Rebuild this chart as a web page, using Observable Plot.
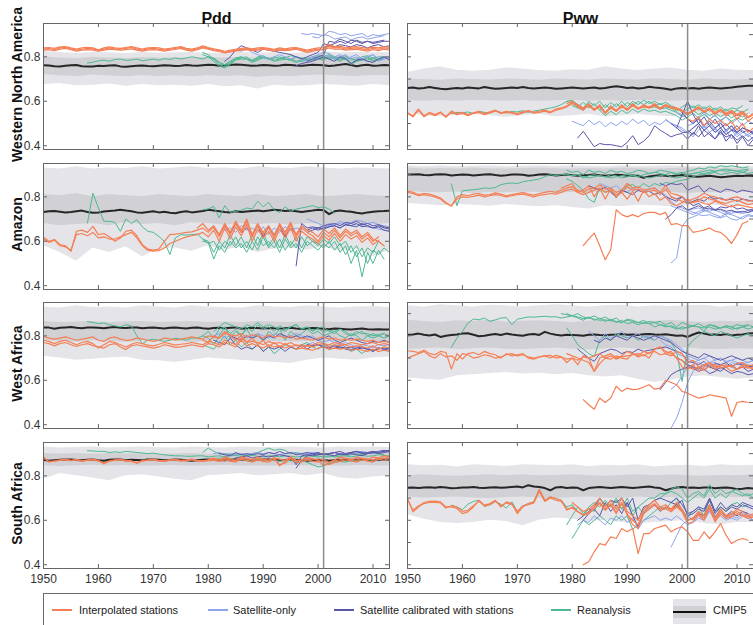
<!DOCTYPE html>
<html><head><meta charset="utf-8">
<script src="https://cdn.jsdelivr.net/npm/d3@7"></script>
<script src="https://cdn.jsdelivr.net/npm/@observablehq/plot@0.6"></script>
<style>
html,body{margin:0;padding:0;background:#fff;}
#fig{position:relative;width:753px;height:625px;overflow:hidden;font-family:"Liberation Sans",Arial,sans-serif;background:#fff;}
.panel{position:absolute;}
#legend{position:absolute;left:43px;top:593px;width:730px;height:40px;border:1px solid #6b6b6b;box-sizing:border-box;}
.sw{position:absolute;height:2px;width:20px;top:15px;}
.lt{position:absolute;top:8px;font-size:11px;line-height:16px;color:#222;white-space:nowrap;}
</style></head><body>
<div id="fig">
<div id="legend">
  <div class="sw" style="left:8px;background:#f57f55"></div><div class="lt" style="left:35px">Interpolated stations</div>
  <div class="sw" style="left:164px;background:#8ea3ea"></div><div class="lt" style="left:189px">Satellite-only</div>
  <div class="sw" style="left:290px;background:#5a55a8"></div><div class="lt" style="left:316px">Satellite calibrated with stations</div>
  <div class="sw" style="left:507px;background:#4fb892"></div><div class="lt" style="left:533px">Reanalysis</div>
  <div style="position:absolute;left:629px;top:5px;width:33px;height:25px;background:#e5e5e9"></div>
  <div style="position:absolute;left:629px;top:12px;width:33px;height:12px;background:#d0d0d5"></div>
  <div style="position:absolute;left:629px;top:17px;width:33px;height:2px;background:#111"></div>
  <div class="lt" style="left:669px">CMIP5</div>
</div>
</div>
<script>
// ---------- labels & ticks ----------
const regions = ["Western North America", "Amazon", "West Africa", "South Africa"];
const variables = ["Pdd", "Pww"];
const xTickYears = [1950, 1960, 1970, 1980, 1990, 2000, 2010];
const yTicksLeft = [0.4, 0.6, 0.8];
const yTicksRight = [0.4, 0.5, 0.6, 0.7, 0.8, 0.9];
const markerYear = [2001];

// ---------- Western North America, Pdd ----------
const wnaPdd_mean = [.762,.761,.758,.757,.760,.762,.763,.758,.756,.757,.760,.759,.761,.762,.757,.755,.758,.760,.761,.759,.758,.760,.762,.761,.759,.760,.763,.761,.760,.762,.764,.763,.760,.761,.763,.765,.764,.762,.760,.761,.763,.762,.760,.761,.764,.763,.761,.760,.762,.764,.763,.762,.759,.761,.764,.768,.763,.758,.762,.764,.760,.761,.763,.762];
const wnaPdd_outerHi = [.825,.82,.815,.82,.818,.815,.82,.816,.818,.82,.815,.818,.82,.816,.818,.815,.82,.822,.818,.82,.818,.82];
const wnaPdd_outerLo = [.675,.68,.67,.672,.678,.668,.675,.67,.672,.668,.675,.665,.67,.655,.672,.668,.67,.675,.672,.668,.675,.67];
const wnaPdd_innerHi = [.8,.795,.792,.798,.795,.793,.797,.795,.796,.794,.797,.795,.797,.795,.796,.794,.797,.8,.796,.797,.795,.796];
const wnaPdd_innerLo = [.72,.715,.712,.718,.714,.71,.716,.712,.715,.71,.716,.712,.715,.708,.714,.71,.716,.718,.714,.712,.716,.715];
const wnaPdd_interp = [
 [1950,.835,.838,.832,.84,.842,.836,.83,.834,.838,.836,.828,.835,.84,.836,.834,.838,.842,.835,.83,.836,.838,.835,.83,.834,.838,.842,.834,.83,.836,.845,.838,.832,.828,.82,.825,.83,.834,.836,.832,.835,.838,.834,.83,.836,.832,.835,.838,.832,.825,.83,.835,.836,.848,.84,.842,.835,.838,.84,.836,.832,.838,.834,.84,.836],
 [1950,.83,.832,.828,.835,.838,.832,.826,.83,.832,.83,.825,.83,.835,.832,.83,.832,.836,.83,.826,.83,.832,.83,.826,.83,.833,.838,.83,.826,.832,.84,.834,.828,.824,.818,.822,.826,.83,.832,.828,.83,.834,.83,.826,.83,.828,.83,.834,.828,.82,.826,.83,.832,.84,.834,.836,.83,.832,.834,.83,.826,.832,.828,.834,.83],
 [1950,.84,.842,.838,.845,.846,.84,.835,.84,.843,.84,.832,.84,.845,.84,.838,.842,.846,.84,.835,.84,.842,.84,.835,.838,.842,.846,.838,.835,.84,.85,.842,.836,.832,.825,.83,.834,.838,.84,.836,.84,.842,.838,.834,.84,.836,.84,.842,.836,.83,.836,.84,.842,.855,.846,.848,.84,.844,.846,.842,.838,.844,.84,.846,.842]
];
const wnaPdd_satOnly = [
 [1997,.905,.9,.905,.9,.895,.915,.91,.9,.905,.895,.9,.905,.89,.9,.895,.9,.905],
 [1999,.89,.885,.9,.895,.88,.885,.89,.875,.885,.89,.88,.885,.89,.895],
 [1985,.83,.825,.835,.82,.81,.8,.79,.8,.81,.8,.79,.8,.79,.78,.8,.79,.81,.8,.79,.8,.81,.79,.8,.785,.8,.81,.79,.8,.79],
 [1998,.79,.8,.81,.82,.815,.8,.81,.79,.8,.81,.79,.8,.81,.78,.79,.8]
];
const wnaPdd_satCal = [
 [1983,.78,.8,.83,.85,.84,.83,.82,.835,.83,.825,.82,.815,.81,.8,.79,.8,.81,.82,.86,.85,.86,.87,.86,.875,.87,.86,.87,.865,.87,.875],
 [1998,.78,.79,.8,.81,.87,.865,.88,.87,.86,.875,.865,.87,.86,.865,.87,.87],
 [1996,.76,.77,.775,.78,.79,.8,.79,.78,.8,.79,.77,.785,.79,.78,.775,.79,.8,.785],
 [2001,.84,.85,.845,.855,.85,.845,.855,.85,.84,.85,.855,.845,.85]
];
const wnaPdd_rean = [
 [1958,.772,.776,.782,.785,.78,.788,.79,.784,.786,.79,.782,.786,.79,.785,.792,.788,.795,.79,.795,.8,.796,.79,.8,.79,.775,.765,.78,.795,.8,.79,.785,.795,.8,.79,.795,.8,.79,.785,.8,.795,.79,.785,.795,.8,.79,.8,.785,.79,.795,.78,.79,.785,.795,.79,.8,.795],
 [1979,.82,.81,.79,.765,.755,.77,.79,.795,.8,.78,.79,.8,.795,.785,.79,.8,.79,.78,.785,.79,.8,.795,.79,.805,.795,.79,.8,.77,.785,.79,.8,.785,.79,.795],
 [1979,.81,.8,.78,.758,.75,.765,.785,.79,.79,.775,.785,.795,.79,.78,.785,.79,.785,.775,.78,.785,.79,.79,.785,.8,.79,.78,.795,.765,.78,.785,.795,.78,.785,.79],
 [1980,.8,.795,.775,.762,.775,.79,.8,.79,.782,.8,.805,.79,.8,.792,.795,.805,.8,.79,.792,.8,.805,.8,.81,.8,.798,.805,.785,.79,.8,.805,.795,.8,.8]
];

// ---------- Western North America, Pww ----------
const wnaPww_mean = [.66,.662,.658,.66,.664,.66,.656,.654,.658,.66,.658,.662,.66,.658,.664,.66,.656,.658,.66,.662,.66,.664,.66,.658,.66,.662,.66,.656,.658,.66,.662,.66,.658,.66,.662,.658,.66,.664,.668,.664,.66,.662,.658,.66,.665,.662,.66,.656,.652,.658,.66,.658,.66,.656,.66,.662,.66,.658,.66,.662,.665,.668,.67,.67];
const wnaPww_outerHi = [.73,.745,.755,.74,.735,.74,.75,.745,.738,.735,.742,.74,.755,.745,.738,.745,.75,.74,.735,.745,.74,.738];
const wnaPww_outerLo = [.55,.535,.53,.535,.54,.535,.528,.535,.54,.53,.535,.54,.53,.535,.54,.535,.53,.54,.535,.53,.535,.54];
const wnaPww_innerHi = [.7,.698,.695,.7,.698,.696,.7,.698,.695,.7,.698,.696,.7,.698,.696,.7,.698,.695,.7,.698,.696,.7];
const wnaPww_innerLo = [.605,.6,.603,.6,.605,.602,.6,.604,.6,.602,.605,.6,.603,.6,.605,.602,.6,.604,.6,.602,.605,.6];
const wnaPww_interp = [
 [1950,.55,.535,.565,.535,.55,.54,.552,.532,.556,.545,.55,.54,.548,.555,.545,.552,.56,.548,.555,.55,.545,.552,.558,.55,.555,.56,.552,.565,.57,.58,.595,.585,.57,.585,.565,.58,.55,.575,.56,.58,.565,.585,.57,.58,.575,.585,.57,.585,.575,.57,.56,.545,.56,.575,.555,.57,.55,.565,.545,.56,.54,.555,.53,.545],
 [1950,.545,.53,.56,.53,.545,.535,.548,.528,.55,.54,.545,.535,.545,.55,.54,.548,.556,.545,.55,.546,.54,.548,.555,.546,.55,.556,.548,.56,.566,.575,.59,.58,.565,.58,.56,.575,.545,.57,.555,.575,.56,.58,.565,.575,.57,.58,.565,.58,.57,.565,.555,.54,.555,.57,.55,.565,.545,.56,.54,.555,.535,.55,.525,.54],
 [1979,.59,.6,.575,.56,.59,.56,.585,.545,.58,.555,.585,.56,.59,.565,.585,.57,.59,.565,.58,.57,.565,.555,.54,.555,.57,.55,.565,.54,.56,.535,.55,.52,.545,.51,.53],
 [2001,.52,.51,.53,.49,.52,.5,.515,.49,.51,.47,.5,.46,.48]
];
const wnaPww_satOnly = [
 [1980,.51,.5,.49,.515,.495,.51,.485,.505,.49,.51,.495,.52,.5,.515,.49,.505,.495,.515,.5,.49,.47,.455,.48,.5,.47,.49,.46,.48,.45,.47,.44,.46,.45,.47],
 [1997,.52,.5,.49,.48,.46,.44,.47,.49,.46,.48,.45,.47,.43,.46,.44,.45,.43],
 [1999,.55,.54,.52,.5,.53,.55,.52,.54,.51,.53,.5,.52,.49,.51,.5],
 [2001,.49,.5,.52,.48,.5,.47,.51,.46,.49,.45,.47,.44,.46]
];
const wnaPww_satCal = [
 [1981,.435,.465,.43,.395,.41,.405,.405,.4,.395,.415,.445,.405,.42,.445,.49,.47,.455,.44,.45,.455,.43,.46,.44,.47,.45,.43,.46,.44,.45,.425,.445,.42,.44],
 [1998,.5,.48,.46,.46,.48,.5,.47,.49,.46,.48,.45,.47,.46,.48,.47,.46],
 [2000,.55,.52,.5,.52,.49,.51,.48,.5,.47,.49,.46,.48,.47,.455],
 [1999,.48,.54,.6,.54,.5,.53,.49,.52,.48,.5,.47,.49,.46,.47,.45],
 [2001,.47,.45,.49,.44,.46,.43,.47,.42,.45,.41,.44,.4,.43]
];
const wnaPww_rean = [
 [1958,.545,.55,.548,.552,.545,.555,.55,.548,.556,.55,.548,.554,.552,.558,.55,.556,.56,.565,.57,.575,.585,.6,.59,.575,.595,.57,.59,.56,.585,.565,.59,.57,.595,.58,.6,.585,.6,.58,.59,.575,.57,.555,.575,.59,.57,.585,.565,.58,.56,.575,.555,.57,.565,.58],
 [1979,.6,.605,.585,.57,.6,.58,.6,.57,.595,.575,.6,.575,.6,.585,.605,.59,.6,.585,.595,.58,.57,.55,.565,.58,.56,.575,.555,.57,.55,.565,.545,.56,.55,.565],
 [1980,.58,.57,.56,.585,.56,.58,.55,.575,.555,.58,.56,.585,.565,.58,.57,.575,.565,.57,.56,.55,.53,.545,.56,.54,.555,.535,.55,.53,.545,.525,.54,.53,.545],
 [1985,.56,.535,.555,.54,.56,.545,.565,.55,.565,.555,.56,.55,.555,.545,.535,.515,.53,.545,.525,.54,.52,.535,.515,.53,.51,.525,.515,.53]
];

// ---------- Amazon, Pdd ----------
const amzPdd_mean = [.732,.735,.736,.733,.73,.732,.735,.738,.732,.728,.73,.734,.736,.738,.742,.738,.735,.73,.728,.732,.735,.73,.733,.728,.726,.732,.735,.73,.733,.736,.742,.738,.735,.732,.73,.735,.732,.734,.736,.738,.735,.738,.742,.74,.736,.738,.735,.732,.735,.738,.742,.74,.722,.735,.738,.735,.733,.728,.725,.73,.733,.735,.736,.738];
const amzPdd_outerHi = [.93,.925,.935,.925,.93,.928,.935,.925,.93,.935,.928,.93,.925,.935,.93,.928,.935,.93,.925,.93,.928,.925];
const amzPdd_outerLo = [.58,.55,.51,.57,.55,.575,.53,.565,.57,.555,.58,.56,.575,.55,.565,.57,.56,.575,.555,.565,.53,.56];
const amzPdd_innerHi = [.81,.805,.815,.8,.81,.805,.8,.81,.805,.8,.81,.805,.8,.81,.8,.805,.81,.8,.805,.81,.805,.8];
const amzPdd_innerLo = [.68,.67,.675,.68,.67,.685,.675,.68,.67,.685,.68,.672,.68,.675,.68,.672,.68,.675,.67,.68,.675,.68];
const amzPdd_interp = [
 [1950,.618,.6,.608,.585,.58,.555,.645,.65,.64,.667,.63,.635,.62,.6,.615,.645,.65,.625,.585,.565,.56,.565,.6,.63,.632,.636,.64,.642,.65,.66,.64,.665,.62,.675,.63,.68,.64,.69,.62,.67,.63,.66,.615,.67,.63,.675,.62,.66,.64,.625,.6,.64,.62,.65,.615,.645,.625,.64,.61,.63,.6,.62],
 [1950,.61,.595,.605,.58,.575,.56,.63,.635,.625,.64,.615,.62,.61,.61,.62,.63,.64,.615,.58,.56,.556,.558,.57,.59,.6,.61,.62,.625,.63,.64,.62,.65,.6,.66,.61,.665,.625,.675,.6,.655,.615,.645,.6,.655,.615,.66,.6,.645,.625,.61,.59,.625,.605,.635,.6,.63,.61,.625,.595,.615,.585,.605],
 [1978,.66,.68,.65,.67,.63,.68,.64,.69,.65,.7,.63,.68,.64,.67,.625,.68,.64,.685,.63,.67,.65,.64,.62,.655,.635,.66,.625,.655,.635,.65,.62,.64,.61,.6,.58]
];
const amzPdd_satOnly = [
 [1998,.7,.69,.68,.67,.68,.675,.69,.68,.685,.695,.69,.68,.685,.675,.67,.665],
 [2000,.66,.665,.67,.675,.68,.67,.68,.675,.67,.665,.66,.655,.65,.645],
 [1983,.65,.66,.64,.67,.65,.66,.64,.665,.63,.66,.64,.665,.65,.66,.655]
];
const amzPdd_satCal = [
 [1981,.66,.63,.67,.635,.68,.64,.66,.63,.67,.62,.665,.63,.67,.62,.66,.63,.67,.65,.66,.65,.66,.665,.67,.66,.675,.67,.68,.665,.67,.66,.67,.66,.655],
 [1996,.49,.68,.66,.665,.66,.67,.675,.68,.67,.685,.68,.69,.675,.68,.67,.675,.665,.66],
 [1998,.64,.65,.66,.655,.665,.67,.66,.675,.67,.665,.68,.67,.66,.665,.65,.645]
];
const amzPdd_rean = [
 [1958,.682,.816,.75,.69,.69,.685,.645,.7,.68,.697,.665,.645,.64,.622,.6,.54,.615,.63,.628,.63,.633,.61,.59,.6,.56,.6,.58,.62,.57,.6,.56,.62,.58,.6,.57,.61,.56,.6,.57,.62,.58,.6,.59,.57,.6,.56,.59,.54,.58,.53,.57,.5,.56,.54,.57,.55],
 [1979,.742,.745,.757,.705,.76,.73,.735,.74,.75,.745,.78,.755,.775,.74,.73,.755,.735,.745,.75,.755,.76,.752,.755,.745,.727],
 [1979,.6,.595,.52,.58,.55,.6,.57,.59,.55,.6,.56,.62,.57,.6,.55,.61,.57,.59,.55,.6,.58,.56,.59,.57,.6,.55,.58,.5,.56,.44,.55,.5,.56,.52],
 [1979,.61,.6,.55,.6,.57,.63,.58,.62,.57,.63,.58,.64,.58,.62,.57,.63,.58,.62,.57,.62,.6,.58,.61,.59,.62,.58,.6,.55,.58,.53,.57,.55,.6,.58]
];

// ---------- Amazon, Pww ----------
const amzPww_mean = [.9,.9,.902,.898,.897,.9,.902,.9,.896,.898,.9,.899,.896,.898,.9,.902,.898,.895,.897,.9,.901,.899,.895,.897,.9,.902,.899,.896,.898,.9,.897,.895,.897,.898,.9,.897,.895,.897,.899,.898,.895,.896,.894,.886,.892,.895,.897,.895,.893,.896,.898,.894,.892,.89,.893,.895,.892,.888,.89,.893,.895,.894,.896,.893];
const amzPww_outerHi = [.94,.935,.94,.935,.938,.94,.935,.938,.94,.936,.94,.938,.935,.94,.936,.938,.94,.935,.938,.94,.936,.938];
const amzPww_outerLo = [.77,.765,.76,.765,.762,.758,.765,.76,.755,.76,.752,.745,.76,.755,.762,.76,.755,.76,.765,.76,.758,.76];
const amzPww_innerHi = [.93,.925,.928,.925,.93,.926,.925,.928,.93,.926,.925,.928,.925,.93,.926,.925,.928,.93,.925,.928,.926,.925];
const amzPww_innerLo = [.825,.82,.818,.822,.815,.82,.818,.822,.82,.815,.82,.818,.82,.815,.822,.818,.82,.815,.82,.818,.822,.82];
const amzPww_interp = [
 [1950,.827,.82,.81,.815,.812,.805,.795,.775,.758,.8,.81,.805,.812,.815,.808,.81,.818,.812,.805,.81,.815,.82,.812,.808,.815,.82,.825,.82,.83,.84,.846,.83,.82,.835,.84,.854,.835,.84,.82,.83,.86,.84,.845,.83,.835,.84,.82,.85,.815,.81,.8,.78,.79,.8,.816,.805,.8,.79,.785,.795,.8,.79,.78,.785],
 [1950,.82,.815,.805,.81,.805,.8,.79,.77,.76,.79,.8,.798,.802,.808,.8,.805,.81,.806,.8,.805,.81,.812,.806,.8,.808,.81,.815,.812,.82,.83,.835,.82,.81,.82,.83,.84,.82,.83,.81,.82,.845,.83,.835,.82,.825,.83,.81,.835,.8,.79,.78,.77,.775,.785,.8,.79,.785,.775,.77,.78,.785,.775,.765,.77],
 [1978,.84,.85,.86,.82,.83,.85,.8,.84,.79,.835,.8,.82,.79,.825,.78,.83,.8,.815,.785,.8,.77,.76,.775,.79,.775,.78,.77,.765,.78,.77,.76,.755,.765,.76,.755,.75],
 [1982,.58,.61,.637,.58,.517,.562,.742,.72,.71,.72,.71,.725,.73,.73,.72,.73,.675,.68,.67,.67,.64,.645,.65,.66,.645,.64,.62,.59,.63,.68,.69]
];
const amzPww_satOnly = [
 [1998,.503,.525,.667,.7,.71,.72,.715,.72,.71,.705,.715,.7,.695,.71,.72,.715],
 [1985,.86,.85,.84,.85,.83,.82,.84,.83,.82,.835,.84,.82,.81,.78,.76,.75,.74,.745,.75,.74,.735,.745,.74,.73,.725,.735,.73,.74,.735],
 [1998,.76,.75,.74,.73,.72,.735,.74,.73,.72,.71,.725,.72,.71,.7,.715,.71],
 [2001,.74,.73,.725,.735,.745,.74,.73,.72,.735,.73,.725,.73,.735]
];
const amzPww_satCal = [
 [1983,.85,.84,.83,.845,.82,.8,.83,.82,.81,.83,.82,.825,.81,.82,.8,.79,.78,.8,.77,.78,.79,.78,.8,.79,.795,.785,.79,.78,.79,.785,.78],
 [1997,.7,.72,.75,.76,.74,.75,.76,.745,.75,.74,.745,.735,.74,.73,.735,.73,.74],
 [1996,.86,.85,.86,.855,.86,.83,.84,.85,.82,.84,.83,.82,.835,.83,.82,.83,.825,.82],
 [1998,.8,.79,.8,.78,.76,.77,.75,.76,.74,.755,.75,.76,.745,.75,.74,.745]
];
const amzPww_rean = [
 [1958,.858,.76,.827,.83,.832,.835,.84,.838,.842,.855,.86,.862,.86,.868,.872,.876,.88,.89,.9,.895,.9,.9,.895,.9,.89,.885,.89,.895,.89,.885,.89,.895,.9,.895,.89,.9,.905,.91,.905,.9,.91,.905,.91,.9,.905,.91,.9,.905,.91,.9,.905,.91,.905,.91,.905,.91],
 [1979,.92,.91,.915,.9,.92,.91,.915,.905,.92,.91,.915,.905,.91,.92,.915,.905,.91,.92,.915,.91,.9,.905,.915,.92,.93,.925,.935,.93,.94,.935,.94,.935,.93,.935],
 [1979,.88,.87,.85,.83,.79,.775,.84,.82,.83,.795,.83,.85,.855,.84,.86,.845,.86,.85,.865,.86,.87,.875,.88,.89,.9,.905,.91,.915,.92,.915,.92,.915,.91,.92],
 [1979,.9,.895,.9,.885,.895,.9,.895,.89,.9,.895,.885,.89,.895,.9,.89,.885,.89,.895,.9,.89,.885,.89,.9,.905,.91,.915,.92,.915,.92,.925,.92,.915,.92,.925]
];

// ---------- West Africa, Pdd ----------
const wafPdd_mean = [.838,.837,.832,.836,.838,.84,.836,.834,.837,.838,.836,.834,.838,.84,.836,.835,.837,.838,.834,.836,.837,.835,.833,.836,.838,.835,.833,.836,.837,.834,.832,.835,.836,.834,.836,.838,.832,.834,.836,.835,.833,.835,.834,.832,.834,.836,.833,.831,.833,.835,.834,.832,.83,.833,.832,.83,.828,.831,.833,.83,.829,.83,.828,.828];
const wafPdd_outerHi = [.93,.925,.935,.928,.93,.925,.935,.93,.925,.935,.93,.928,.925,.935,.93,.928,.935,.93,.925,.93,.932,.928];
const wafPdd_outerLo = [.708,.7,.69,.695,.7,.705,.69,.688,.68,.69,.7,.695,.69,.685,.68,.675,.69,.7,.695,.69,.7,.705];
const wafPdd_innerHi = [.865,.86,.862,.865,.86,.863,.865,.86,.862,.865,.86,.862,.86,.865,.862,.86,.865,.862,.86,.865,.862,.86];
const wafPdd_innerLo = [.78,.775,.772,.778,.775,.77,.776,.773,.775,.77,.776,.772,.775,.77,.774,.772,.775,.772,.776,.774,.772,.775];
const wafPdd_interp = [
 [1950,.797,.79,.785,.79,.795,.788,.78,.785,.79,.795,.78,.775,.79,.795,.785,.78,.782,.79,.786,.78,.775,.78,.79,.786,.782,.785,.79,.795,.79,.785,.8,.795,.79,.81,.805,.8,.81,.795,.805,.8,.79,.805,.795,.8,.79,.8,.785,.79,.785,.78,.79,.795,.785,.79,.78,.785,.78,.785,.78,.775,.78,.77,.775,.77],
 [1950,.78,.775,.765,.775,.78,.77,.76,.77,.775,.765,.745,.76,.775,.77,.76,.75,.762,.77,.765,.758,.755,.762,.77,.765,.758,.762,.765,.77,.765,.76,.775,.77,.76,.78,.77,.76,.79,.77,.775,.77,.76,.775,.765,.77,.76,.77,.755,.76,.755,.75,.76,.765,.75,.76,.755,.76,.75,.755,.75,.745,.755,.74,.75,.745],
 [1950,.77,.765,.755,.765,.77,.76,.752,.76,.765,.756,.75,.745,.76,.765,.75,.738,.755,.76,.755,.75,.745,.75,.76,.755,.748,.75,.755,.76,.755,.75,.765,.76,.75,.77,.76,.75,.78,.755,.765,.755,.745,.76,.75,.755,.745,.755,.74,.745,.74,.735,.745,.75,.74,.745,.74,.745,.735,.74,.735,.73,.74,.73,.735,.73],
 [1979,.78,.77,.8,.79,.82,.8,.78,.8,.77,.79,.76,.78,.75,.77,.75,.765,.75,.76,.75,.755,.76,.77,.765,.76,.77,.765,.76,.77,.765,.76,.765,.77,.76,.765,.76]
];
const wafPdd_satOnly = [
 [1981,.8,.81,.79,.8,.78,.8,.79,.8,.81,.8,.79,.81,.8,.795,.8,.81,.8,.79,.8,.78,.77,.78,.77,.76,.77,.76,.75,.76,.755,.75,.76,.755,.76],
 [1998,.76,.77,.76,.75,.76,.755,.76,.75,.74,.75,.745,.74,.75,.745,.74,.75]
];
const wafPdd_satCal = [
 [1981,.78,.77,.76,.79,.76,.74,.75,.74,.76,.73,.75,.74,.75,.73,.75,.74,.76,.74,.755,.76,.75,.74,.745,.75,.74,.735,.745,.75,.74,.73,.745,.74,.745],
 [1998,.76,.755,.76,.75,.745,.755,.75,.745,.75,.74,.745,.74,.735,.745,.74,.735],
 [1984,.8,.79,.78,.8,.79,.8,.78,.8,.79,.81,.8,.79,.8,.79,.8,.79,.78,.79,.8,.78,.77,.78,.79,.78,.77,.765,.775,.77,.78,.77]
];
const wafPdd_rean = [
 [1958,.864,.86,.855,.858,.85,.845,.84,.85,.845,.8,.765,.78,.785,.78,.775,.78,.79,.785,.78,.79,.79,.8,.82,.79,.83,.84,.81,.83,.8,.84,.82,.85,.83,.84,.82,.845,.83,.84,.85,.83,.84,.825,.83,.82,.825,.82,.83,.81,.8,.82,.81,.81,.8,.805,.81,.8],
 [1979,.8,.79,.76,.8,.84,.79,.82,.8,.83,.79,.81,.78,.82,.8,.83,.78,.82,.8,.81,.83,.81,.82,.8,.81,.82,.8,.79,.81,.8,.78,.8,.79,.8,.81],
 [1979,.76,.75,.74,.77,.8,.76,.78,.75,.77,.74,.76,.73,.75,.72,.74,.76,.75,.74,.76,.77,.75,.74,.76,.75,.76,.74,.75,.73,.74,.72,.74,.73,.74,.75],
 [1981,.82,.84,.86,.85,.84,.83,.85,.84,.86,.84,.85,.84,.83,.82,.84,.85,.83,.84,.82,.835,.84,.82,.81,.83,.82,.8,.81,.82,.8,.81,.8,.79,.8]
];

// ---------- West Africa, Pww ----------
const wafPww_mean = [.805,.806,.81,.805,.802,.806,.795,.8,.804,.806,.81,.812,.805,.798,.8,.805,.808,.804,.81,.806,.803,.8,.806,.808,.804,.818,.81,.805,.802,.805,.804,.803,.8,.805,.806,.804,.803,.805,.806,.808,.805,.806,.804,.807,.808,.806,.805,.807,.804,.8,.802,.795,.806,.815,.81,.805,.806,.804,.808,.802,.805,.806,.81,.812];
const wafPww_outerHi = [.935,.93,.94,.935,.93,.938,.935,.93,.935,.94,.935,.93,.935,.938,.93,.935,.932,.935,.938,.93,.935,.932];
const wafPww_outerLo = [.61,.605,.6,.62,.625,.63,.635,.628,.632,.625,.63,.62,.615,.62,.605,.59,.6,.615,.62,.612,.605,.61];
const wafPww_innerHi = [.87,.865,.86,.868,.865,.87,.862,.866,.868,.864,.86,.866,.87,.864,.86,.866,.87,.865,.86,.866,.862,.868];
const wafPww_innerLo = [.74,.742,.745,.738,.742,.745,.74,.738,.742,.745,.74,.736,.742,.745,.74,.738,.742,.745,.74,.738,.742,.74];
const wafPww_interp = [
 [1950,.733,.73,.725,.735,.72,.715,.73,.725,.65,.72,.695,.72,.725,.715,.73,.72,.715,.7,.72,.71,.715,.72,.7,.695,.705,.71,.7,.712,.705,.695,.7,.69,.705,.7,.71,.72,.7,.71,.695,.705,.71,.715,.72,.71,.725,.73,.715,.72,.71,.73,.72,.68,.69,.66,.67,.68,.66,.665,.67,.66,.675,.68,.665,.67],
 [1950,.7,.71,.72,.73,.71,.7,.72,.705,.71,.69,.72,.715,.7,.705,.715,.71,.7,.705,.715,.72,.71,.715,.705,.7,.705,.71,.712,.7,.705,.68,.7,.67,.71,.7,.64,.675,.7,.695,.71,.7,.695,.72,.705,.715,.7,.74,.75,.72,.73,.7,.69,.66,.65,.66,.645,.665,.67,.655,.66,.665,.65,.66,.655,.66],
 [1979,.72,.71,.7,.69,.68,.64,.7,.71,.72,.7,.71,.73,.72,.71,.73,.72,.74,.75,.73,.72,.7,.66,.65,.67,.64,.66,.68,.65,.67,.66,.64,.65,.67,.66,.65],
 [1982,.513,.49,.47,.52,.5,.52,.573,.55,.565,.558,.56,.57,.58,.56,.565,.6,.59,.58,.55,.542,.53,.52,.525,.535,.53,.525,.52,.438,.5,.505,.5]
];
const wafPww_satOnly = [
 [1983,.82,.8,.78,.81,.79,.8,.82,.79,.8,.81,.79,.8,.78,.8,.79,.78,.76,.74,.71,.7,.69,.7,.71,.69,.7,.68,.69,.7,.69,.68,.69],
 [1998,.385,.43,.5,.59,.64,.66,.65,.67,.66,.65,.67,.66,.65,.66,.67,.66],
 [1998,.56,.58,.62,.66,.67,.68,.665,.675,.68,.67,.66,.68,.67,.675,.66,.67],
 [1996,.78,.76,.75,.72,.71,.7,.68,.69,.7,.68,.69,.7,.685,.69,.68,.675,.68,.69]
];
const wafPww_satCal = [
 [1981,.74,.72,.7,.685,.72,.73,.74,.735,.72,.73,.725,.74,.73,.735,.74,.745,.75,.74,.73,.72,.685,.68,.67,.685,.66,.675,.67,.68,.66,.675,.67,.66,.665],
 [1996,.558,.59,.625,.64,.65,.66,.655,.64,.65,.63,.64,.66,.645,.63,.64,.635,.625,.63],
 [1984,.78,.77,.79,.78,.8,.79,.78,.8,.79,.78,.79,.8,.79,.78,.77,.75,.73,.72,.71,.7,.72,.71,.7,.69,.7,.71,.7,.69,.7,.69],
 [1999,.7,.69,.67,.66,.65,.67,.66,.65,.64,.66,.67,.65,.66,.64,.65]
];
const wafPww_rean = [
 [1958,.748,.79,.82,.857,.876,.872,.88,.865,.872,.88,.882,.85,.875,.88,.885,.884,.886,.888,.885,.886,.88,.885,.89,.885,.878,.88,.875,.87,.872,.868,.865,.86,.87,.865,.86,.855,.865,.86,.85,.845,.84,.83,.84,.835,.845,.84,.82,.85,.84,.835,.84,.83,.835,.84,.83,.84],
 [1978,.9,.895,.89,.9,.885,.88,.89,.875,.885,.87,.88,.86,.875,.87,.86,.87,.855,.86,.865,.85,.86,.84,.86,.85,.845,.855,.84,.85,.845,.835,.845,.84,.85,.845,.85,.84],
 [1979,.835,.8,.76,.74,.72,.707,.78,.8,.78,.81,.8,.79,.8,.78,.8,.79,.78,.8,.79,.77,.73,.595,.75,.78,.8,.82,.81,.8,.82,.81,.8,.79,.8,.81,.8],
 [1979,.9,.89,.88,.87,.885,.87,.88,.865,.875,.86,.87,.855,.86,.85,.86,.855,.84,.85,.84,.845,.835,.83,.84,.845,.84,.835,.84,.83,.835,.845,.84,.83,.84,.845]
];

// ---------- South Africa, Pdd ----------
const safPdd_mean = [.872,.868,.87,.872,.874,.873,.871,.87,.872,.874,.87,.868,.872,.874,.873,.87,.872,.871,.87,.873,.874,.872,.87,.871,.873,.872,.87,.868,.87,.872,.874,.873,.871,.87,.872,.874,.873,.871,.87,.872,.873,.874,.872,.87,.871,.873,.872,.87,.868,.87,.872,.871,.868,.87,.872,.871,.87,.872,.873,.871,.87,.872,.873,.874];
const safPdd_outerHi = [.93,.925,.928,.93,.925,.928,.93,.926,.925,.93,.928,.925,.93,.928,.926,.93,.928,.925,.93,.928,.93,.928];
const safPdd_outerLo = [.785,.81,.8,.79,.778,.8,.805,.795,.785,.778,.8,.805,.81,.8,.805,.81,.8,.81,.79,.785,.795,.8];
const safPdd_innerHi = [.9,.898,.9,.897,.9,.898,.9,.896,.898,.9,.897,.9,.898,.9,.897,.9,.898,.9,.897,.9,.898,.9];
const safPdd_innerLo = [.845,.842,.845,.848,.844,.846,.843,.845,.847,.843,.845,.846,.844,.845,.843,.846,.844,.845,.843,.846,.845,.844];
const safPdd_interp = [
 [1950,.886,.862,.868,.872,.875,.87,.874,.868,.872,.875,.87,.853,.868,.872,.874,.87,.868,.856,.87,.872,.875,.87,.868,.872,.874,.87,.872,.875,.87,.868,.872,.875,.87,.878,.872,.868,.88,.875,.87,.878,.872,.87,.88,.875,.87,.885,.868,.87,.88,.875,.87,.875,.86,.868,.872,.88,.875,.87,.88,.876,.872,.882,.878,.885],
 [1950,.88,.865,.865,.87,.872,.868,.872,.865,.87,.872,.866,.858,.865,.87,.872,.866,.865,.86,.866,.87,.872,.866,.865,.87,.872,.866,.868,.872,.866,.865,.868,.87,.865,.872,.866,.862,.875,.868,.862,.872,.865,.862,.875,.85,.858,.878,.86,.862,.872,.866,.862,.868,.85,.86,.865,.872,.868,.862,.872,.866,.862,.875,.87,.878],
 [1980,.875,.88,.872,.885,.878,.87,.885,.88,.872,.885,.875,.87,.882,.845,.865,.885,.87,.872,.882,.878,.872,.845,.86,.872,.885,.878,.872,.885,.878,.87,.885,.88,.89,.885]
];
const safPdd_satOnly = [
 [1981,.9,.905,.895,.9,.895,.9,.895,.9,.905,.9,.905,.9,.895,.9,.905,.9,.895,.9,.905,.9,.895,.9,.905,.9,.895,.9,.905,.91,.905,.9,.905,.91,.915],
 [1998,.895,.9,.905,.895,.9,.905,.9,.895,.9,.905,.9,.905,.91,.905,.91,.905]
];
const safPdd_satCal = [
 [1982,.9,.895,.89,.905,.895,.9,.895,.9,.895,.905,.9,.91,.9,.905,.895,.9,.905,.9,.905,.895,.9,.905,.91,.9,.905,.91,.905,.9,.905,.91,.915,.91],
 [1983,.885,.87,.88,.885,.89,.88,.885,.89,.885,.89,.895,.89,.885,.85,.89,.895,.89,.895,.9,.895,.89,.9,.895,.9,.895,.89,.9,.905,.9,.905,.91],
 [1996,.835,.87,.89,.895,.9,.895,.9,.905,.895,.9,.905,.91,.9,.905,.91,.905,.91,.915]
];
const safPdd_rean = [
 [1958,.913,.912,.91,.91,.905,.908,.905,.91,.908,.905,.903,.9,.902,.898,.895,.892,.89,.89,.888,.888,.89,.89,.885,.888,.89,.885,.89,.892,.888,.89,.892,.888,.885,.89,.888,.886,.89,.888,.885,.887,.89,.888,.885,.888,.89,.885,.888,.89,.885,.89,.892,.888,.89,.895,.892,.89],
 [1979,.905,.925,.91,.9,.9,.895,.9,.895,.89,.9,.905,.915,.925,.915,.92,.915,.9,.905,.9,.895,.9,.89,.885,.885,.89,.895,.89,.895,.9,.895,.9,.905,.9,.895],
 [1980,.87,.875,.88,.878,.875,.88,.875,.87,.865,.875,.87,.868,.87,.866,.87,.868,.865,.87,.86,.85,.84,.845,.855,.86,.865,.862,.87,.866,.87,.872,.87,.875,.88]
];

// ---------- South Africa, Pww ----------
const safPww_mean = [.746,.748,.745,.747,.749,.746,.75,.747,.744,.745,.747,.748,.75,.746,.745,.747,.749,.746,.748,.75,.752,.748,.758,.752,.75,.745,.735,.748,.75,.745,.748,.746,.735,.745,.748,.75,.747,.745,.748,.75,.748,.745,.747,.75,.752,.748,.745,.735,.742,.748,.75,.746,.748,.745,.748,.747,.744,.746,.748,.745,.74,.742,.745,.743];
const safPww_outerHi = [.85,.845,.848,.84,.85,.846,.842,.85,.848,.845,.85,.842,.848,.845,.85,.84,.845,.848,.842,.85,.845,.848];
const safPww_outerLo = [.625,.605,.59,.585,.59,.6,.595,.575,.6,.61,.605,.595,.6,.59,.585,.59,.595,.6,.585,.58,.59,.59];
const safPww_innerHi = [.8,.805,.8,.798,.802,.805,.8,.805,.8,.802,.805,.8,.798,.802,.805,.8,.804,.8,.798,.802,.8,.805];
const safPww_innerLo = [.705,.7,.702,.705,.7,.698,.702,.705,.7,.698,.702,.705,.7,.698,.705,.7,.702,.698,.7,.705,.702,.7];
const safPww_interp = [
 [1950,.698,.638,.66,.68,.685,.686,.683,.66,.66,.653,.63,.638,.66,.69,.668,.675,.69,.66,.683,.675,.63,.66,.675,.683,.74,.69,.705,.698,.69,.645,.66,.638,.623,.63,.652,.675,.645,.668,.63,.675,.63,.58,.563,.63,.652,.668,.645,.652,.638,.66,.638,.585,.593,.623,.6,.652,.593,.63,.608,.615,.63,.62,.608,.615],
 [1950,.695,.645,.665,.675,.68,.68,.678,.655,.665,.66,.64,.645,.665,.685,.665,.67,.685,.665,.678,.67,.64,.665,.67,.678,.73,.685,.7,.69,.685,.65,.655,.64,.625,.635,.66,.68,.65,.675,.635,.68,.625,.6,.58,.64,.66,.675,.65,.66,.645,.665,.645,.6,.605,.63,.61,.66,.6,.64,.615,.625,.64,.625,.615,.62],
 [1980,.68,.66,.64,.65,.67,.7,.66,.69,.65,.7,.64,.62,.6,.65,.67,.69,.66,.67,.65,.68,.65,.6,.61,.64,.62,.67,.61,.65,.62,.63,.65,.64,.62,.63],
 [1982,.4,.413,.458,.495,.488,.525,.518,.563,.548,.563,.45,.54,.54,.563,.57,.578,.548,.563,.57,.548,.51,.51,.548,.518,.548,.585,.533,.495,.51,.518,.51]
];
const safPww_satOnly = [
 [1981,.58,.6,.59,.62,.6,.58,.61,.6,.62,.59,.61,.56,.6,.61,.62,.6,.61,.6,.62,.6,.58,.59,.61,.6,.64,.6,.62,.6,.61,.6,.62,.61,.6],
 [1998,.48,.53,.58,.6,.61,.62,.6,.65,.61,.63,.61,.62,.61,.63,.62,.6],
 [2001,.62,.6,.63,.61,.66,.62,.64,.62,.63,.62,.64,.63,.62]
];
const safPww_satCal = [
 [1981,.6,.62,.64,.66,.7,.66,.69,.68,.7,.66,.7,.6,.66,.67,.69,.7,.69,.68,.7,.67,.63,.64,.66,.65,.7,.64,.68,.65,.67,.66,.68,.67,.66],
 [1982,.6,.63,.65,.62,.68,.64,.67,.63,.68,.62,.57,.63,.65,.67,.64,.66,.65,.67,.65,.6,.61,.63,.62,.67,.61,.65,.62,.64,.62,.64,.63],
 [1998,.68,.67,.69,.62,.63,.65,.64,.69,.63,.66,.64,.66,.65,.67,.66,.65]
];
const safPww_rean = [
 [1958,.668,.66,.648,.672,.685,.69,.662,.67,.685,.672,.655,.683,.64,.665,.675,.683,.74,.69,.705,.698,.69,.66],
 [1979,.58,.62,.66,.63,.65,.64,.7,.67,.66,.69,.65,.7,.64,.66,.63,.67,.69,.7,.72,.73,.72,.7,.68,.7,.72,.7,.74,.7,.72,.7,.73,.72,.71,.72,.7],
 [1980,.52,.56,.6,.58,.6,.62,.6,.58,.62,.6,.62,.56,.58,.6,.62,.64,.66,.65,.68,.7,.64,.62,.64,.66,.62,.7,.64,.66,.64,.67,.68,.66,.67],
 [1979,.66,.67,.64,.62,.66,.68,.66,.69,.66,.7,.65,.68,.62,.66,.68,.7,.7,.72,.72,.74,.75,.74,.7,.72,.73,.71,.76,.72,.74,.72,.73,.74,.72,.71,.72]
];

// ---------- drawing ----------
const colors = {interp: "#f57f55", satOnly: "#8ea3ea", satCal: "#5a55a8", rean: "#4fb892"};
const PW = 346, PH = 126;
const rowTops = [23, 162.5, 302, 441.5];
const yDomain = [0.383, 0.95];

const panels = [
  [{mean: wnaPdd_mean, oLo: wnaPdd_outerLo, oHi: wnaPdd_outerHi, iLo: wnaPdd_innerLo, iHi: wnaPdd_innerHi, interp: wnaPdd_interp, satOnly: wnaPdd_satOnly, satCal: wnaPdd_satCal, rean: wnaPdd_rean},
   {mean: wnaPww_mean, oLo: wnaPww_outerLo, oHi: wnaPww_outerHi, iLo: wnaPww_innerLo, iHi: wnaPww_innerHi, interp: wnaPww_interp, satOnly: wnaPww_satOnly, satCal: wnaPww_satCal, rean: wnaPww_rean}],
  [{mean: amzPdd_mean, oLo: amzPdd_outerLo, oHi: amzPdd_outerHi, iLo: amzPdd_innerLo, iHi: amzPdd_innerHi, interp: amzPdd_interp, satOnly: amzPdd_satOnly, satCal: amzPdd_satCal, rean: amzPdd_rean},
   {mean: amzPww_mean, oLo: amzPww_outerLo, oHi: amzPww_outerHi, iLo: amzPww_innerLo, iHi: amzPww_innerHi, interp: amzPww_interp, satOnly: amzPww_satOnly, satCal: amzPww_satCal, rean: amzPww_rean}],
  [{mean: wafPdd_mean, oLo: wafPdd_outerLo, oHi: wafPdd_outerHi, iLo: wafPdd_innerLo, iHi: wafPdd_innerHi, interp: wafPdd_interp, satOnly: wafPdd_satOnly, satCal: wafPdd_satCal, rean: wafPdd_rean},
   {mean: wafPww_mean, oLo: wafPww_outerLo, oHi: wafPww_outerHi, iLo: wafPww_innerLo, iHi: wafPww_innerHi, interp: wafPww_interp, satOnly: wafPww_satOnly, satCal: wafPww_satCal, rean: wafPww_rean}],
  [{mean: safPdd_mean, oLo: safPdd_outerLo, oHi: safPdd_outerHi, iLo: safPdd_innerLo, iHi: safPdd_innerHi, interp: safPdd_interp, satOnly: safPdd_satOnly, satCal: safPdd_satCal, rean: safPdd_rean},
   {mean: safPww_mean, oLo: safPww_outerLo, oHi: safPww_outerHi, iLo: safPww_innerLo, iHi: safPww_innerHi, interp: safPww_interp, satOnly: safPww_satOnly, satCal: safPww_satCal, rean: safPww_rean}]
];

function expand(list, cat) {
  const out = [];
  list.forEach((s, k) => {
    const [start, ...vals] = s;
    vals.forEach((v, i) => out.push({id: cat + k, year: start + i, v}));
  });
  return out;
}
function band(lo, hi) {
  const n = Math.min(lo.length, hi.length);
  return d3.range(n).map(i => ({year: 1950 + 3 * i, lo: lo[i], hi: hi[i]}));
}

const fig = document.getElementById("fig");
const legendEl = document.getElementById("legend");

panels.forEach((rowPanels, row) => rowPanels.forEach((p, col) => {
  const mt = row === 0 ? 23 : 8;
  const mb = row === 3 ? 24 : 8;
  const ml = col === 0 ? 43 : 12;
  const mr = col === 0 ? 6 : 2;
  const width = ml + PW + mr;
  const height = mt + PH + mb;
  const yt = col === 0 ? yTicksLeft : yTicksRight;
  const xt = xTickYears.slice(1);
  const mean = p.mean.map((v, i) => ({year: 1950 + i, v}));
  const marks = [
    Plot.areaY(band(p.oLo, p.oHi), {x: "year", y1: "lo", y2: "hi", fill: "#e5e5e9", clip: true}),
    Plot.areaY(band(p.iLo, p.iHi), {x: "year", y1: "lo", y2: "hi", fill: "#d0d0d5", clip: true}),
    Plot.line(mean, {x: "year", y: "v", stroke: "#262626", strokeWidth: 2, clip: true}),
    ...["rean", "satOnly", "satCal", "interp"].map(c =>
      Plot.line(expand(p[c], c), {x: "year", y: "v", z: "id", stroke: colors[c], strokeWidth: c === "interp" ? 1.2 : 1, clip: true})),
    Plot.ruleX(markerYear, {stroke: "#8c8c8c", strokeWidth: 1.5}),
    Plot.tickY(yt, {y: d => d, stroke: "#666", insetRight: PW - 4}),
    Plot.tickY(yt, {y: d => d, stroke: "#666", insetLeft: PW - 4}),
    Plot.tickX(xt, {x: d => d, stroke: "#666", insetBottom: PH - 4}),
    Plot.tickX(xt, {x: d => d, stroke: "#666", insetTop: PH - 4}),
    Plot.frame({stroke: "#666"})
  ];
  if (col === 0) {
    marks.push(Plot.axisY({ticks: yTicksLeft, tickSize: 0, tickPadding: 3, tickFormat: d3.format(".1f"), label: null}));
    marks.push(Plot.text([regions[row]], {frameAnchor: "left", textAnchor: "middle", dx: -26, dy: -2, rotate: -90, fontSize: 14, fontWeight: "bold", fill: "#111"}));
  }
  if (row === 3) {
    marks.push(Plot.axisX({ticks: xTickYears, tickSize: 0, tickPadding: 6, tickFormat: d3.format("d"), label: null}));
  }
  if (row === 0) {
    marks.push(Plot.text([variables[col]], {frameAnchor: "top", dy: -11, fontSize: 16, fontWeight: "bold", fill: "#111"}));
  }
  const svg = Plot.plot({
    width, height, marginTop: mt, marginBottom: mb, marginLeft: ml, marginRight: mr,
    x: {domain: [1950, 2013], axis: row === 3 ? undefined : null},
    y: {domain: yDomain, axis: col === 0 ? undefined : null},
    style: {background: "transparent", overflow: "visible", fontFamily: "Liberation Sans, Arial, sans-serif", fontSize: "12px", color: "#333"},
    marks
  });
  const div = document.createElement("div");
  div.className = "panel";
  div.style.left = (col === 0 ? 0 : 395) + "px";
  div.style.top = (rowTops[row] - mt) + "px";
  div.style.width = width + "px";
  div.style.height = height + "px";
  div.appendChild(svg);
  fig.insertBefore(div, legendEl);
}));
</script>
</body></html>
